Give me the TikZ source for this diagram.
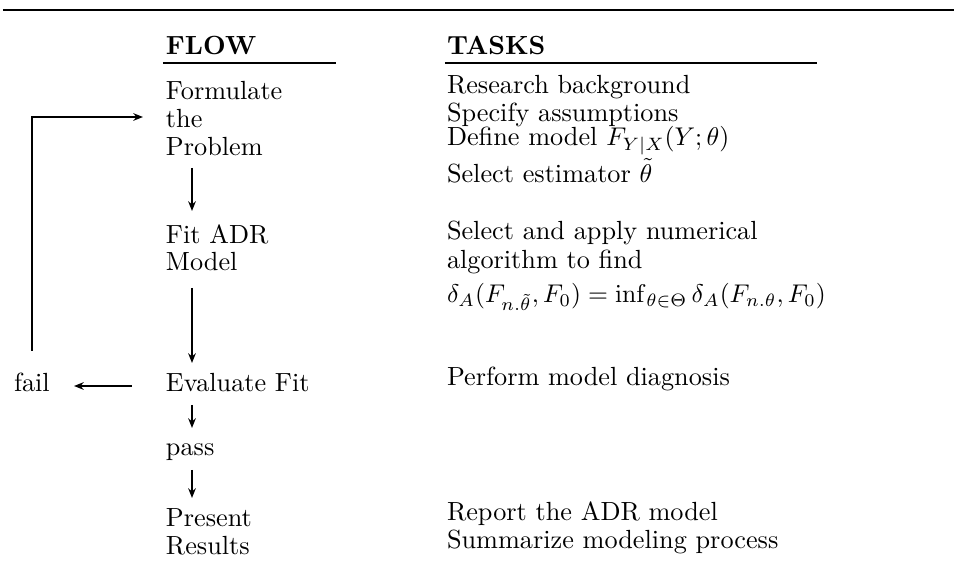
\documentclass[tikz,border=0pt]{standalone}
\usetikzlibrary{arrows.meta}
\begin{document}
\begin{tikzpicture}[x=0.3906pt,y=-0.3906pt,
  txt/.style={anchor=base west,inner sep=0pt,outer sep=0pt,font=\fontsize{10.25}{12}\selectfont},
  hdr/.style={txt,font=\fontsize{10.25}{12}\selectfont\bfseries},
  arr/.style={line width=0.75pt,-{Stealth[length=3.8pt,width=3pt]}},
  rule/.style={line width=0.75pt}]
\useasboundingbox (0,0) rectangle (954,578);
% top rule
\coordinate (r1) at (3,10);
\coordinate (r2) at (954,10);
\draw[line width=0.9pt] (r1) -- (r2);
% headers
\node[hdr] (flow) at (166,54) {FLOW};
\node[hdr] (tasks) at (447,54) {TASKS};
\coordinate (u1a) at (163,63); \coordinate (u1b) at (336,63);
\coordinate (u2a) at (445,63); \coordinate (u2b) at (817,63);
\draw[rule] (u1a) -- (u1b);
\draw[rule] (u2a) -- (u2b);
% flow column
\node[txt] (form1) at (166,99) {Formulate};
\node[txt] (form2) at (166,127) {the};
\node[txt] (form3) at (166,155) {Problem};
\node[txt] (fit1) at (166,244) {Fit ADR};
\node[txt] (fit2) at (166,271) {Model};
\node[txt] (eval) at (166,391) {Evaluate Fit};
\node[txt] (fail) at (14,391) {fail};
\node[txt] (pass) at (166,456) {pass};
\node[txt] (pres1) at (166,526) {Present};
\node[txt] (pres2) at (166,554) {Results};
% tasks column
\node[txt] (t1) at (447,94) {Research background};
\node[txt] (t2) at (447,122) {Specify assumptions};
\node[txt] (t3) at (447,146) {Define model $F_{Y|X}(Y;\theta)$};
\node[txt] (t4) at (447,182) {Select estimator $\tilde\theta$};
\node[txt] (t5) at (447,239) {Select and apply numerical};
\node[txt] (t6) at (447,268) {algorithm to find};
\node[txt] (t7) at (447,303) {$\delta_A(F_{n.\tilde\theta},F_0)=\inf_{\theta\in\Theta}\delta_A(F_{n.\theta},F_0)$};
\node[txt] (t8) at (447,386) {Perform model diagnosis};
\node[txt] (t9) at (447,521) {Report the ADR model};
\node[txt] (t10) at (447,549) {Summarize modeling process};
% arrow end points
\coordinate (a1s) at (192,168); \coordinate (a1e) at (192,211);
\coordinate (a2s) at (192,288); \coordinate (a2e) at (192,363);
\coordinate (a3s) at (192,405); \coordinate (a3e) at (192,428);
\coordinate (a4s) at (192,470); \coordinate (a4e) at (192,498);
\coordinate (fs) at (132,386); \coordinate (fe) at (74,386);
\coordinate (lb) at (32,351); \coordinate (lc) at (32,117); \coordinate (le) at (143,117);
\draw[arr] (a1s) -- (a1e);
\draw[arr] (a2s) -- (a2e);
\draw[arr] (a3s) -- (a3e);
\draw[arr] (a4s) -- (a4e);
\draw[arr,line width=0.6pt] (fs) -- (fe);
\draw[arr,line width=0.6pt] (lb) -- (lc) -- (le);
\end{tikzpicture}
\end{document}
